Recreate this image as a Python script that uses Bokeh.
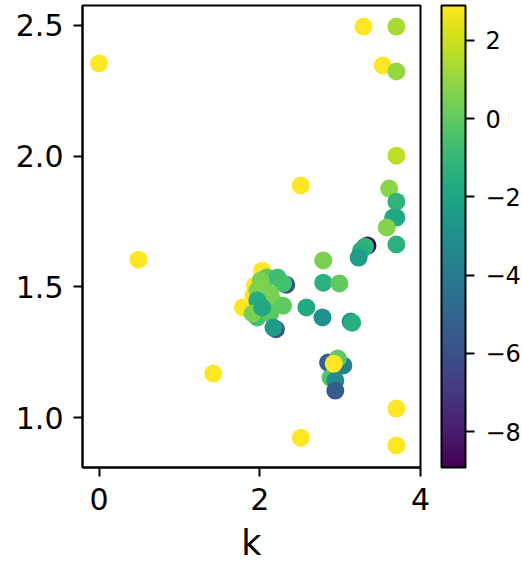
from bokeh.plotting import figure
from bokeh.models import (ColumnDataSource, LinearColorMapper, ColorBar, FixedTicker,
                          CustomJSTickFormatter, Range1d)
from bokeh.palettes import Viridis256
from bokeh.embed import file_html
from bokeh.resources import INLINE

# ---- data ----
k_vals = [0.0, 0.49, 1.42, 2.51, 2.51, 3.29, 3.70, 3.53, 3.70, 3.70,
          3.61, 3.70, 3.66, 3.70, 3.58, 3.70, 3.34, 3.31, 3.26, 3.23,
          2.79, 2.79, 2.99, 2.58, 2.78, 3.13, 3.15,
          2.85, 3.04, 2.97, 2.88, 2.94, 2.94, 2.92, 3.70, 3.70,
          2.33, 2.20, 2.03, 1.79, 1.94, 1.92, 2.09, 2.22, 2.29, 2.01,
          1.97, 2.13, 2.16, 1.97, 2.29, 1.97, 2.13, 2.17, 1.91, 2.03]
y_vals = [2.355, 1.604, 1.168, 1.888, 0.923, 2.496, 2.496, 2.347, 2.324, 2.002,
          1.876, 1.826, 1.765, 1.765, 1.727, 1.662, 1.658, 1.654, 1.639, 1.612,
          1.601, 1.516, 1.513, 1.421, 1.383, 1.367, 1.363,
          1.210, 1.199, 1.226, 1.153, 1.141, 1.103, 1.206, 1.034, 0.893,
          1.508, 1.338, 1.562, 1.421, 1.505, 1.467, 1.536, 1.536, 1.513, 1.524,
          1.486, 1.474, 1.448, 1.448, 1.428, 1.383, 1.398, 1.344, 1.398, 1.421]
c_vals = [2.89, 2.89, 2.89, 2.89, 2.89, 2.89, 1.35, 2.89, 1.0, 1.7,
          0.8, -1.24, -1.6, -1.9, 0.7, -1.4, -8.9, -1.2, -1.5, -2.3,
          0.5, -1.4, 0.0, -1.7, -3.0, -2.8, -1.5,
          -5.4, -3.8, 0.0, -0.3, -3.2, -5.5, 2.89, 2.89, 2.89,
          -6.0, -6.0, 2.89, 2.89, 2.89, 2.89, -0.1, -0.8, -0.6, 0.5,
          0.6, 0.5, 0.5, -1.6, 0.0, -0.6, -0.1, -2.4, 0.5, -1.8]

xticks = [0, 2, 4]
yticks = [1.0, 1.5, 2.0, 2.5]
cticks = [-8, -6, -4, -2, 0, 2]
x_label = "k"

src = ColumnDataSource(dict(k=k_vals, y=y_vals, c=c_vals))
mapper = LinearColorMapper(palette=Viridis256, low=-8.92, high=2.89)

p = figure(frame_width=338, frame_height=462,
           min_border_left=82, min_border_top=5, min_border_bottom=96, min_border_right=102,
           x_range=Range1d(-0.206, 4.0), y_range=Range1d(0.8087, 2.5765),
           output_backend="svg", toolbar_location=None)

p.scatter("k", "y", source=src, size=18, line_color=None,
          fill_color={"field": "c", "transform": mapper})

p.xgrid.visible = False
p.ygrid.visible = False
p.outline_line_color = "black"
p.outline_line_width = 2
p.outline_line_alpha = 1

for ax in (p.xaxis[0], p.yaxis[0]):
    ax.axis_line_width = 2
    ax.axis_line_color = "black"
    ax.major_tick_line_width = 2
    ax.major_tick_in = 0
    ax.major_tick_out = 9
    ax.minor_tick_line_color = None
    ax.major_label_text_font = "DejaVu Sans"
    ax.major_label_text_font_size = "30px"
    ax.major_label_text_color = "black"

p.xaxis.ticker = FixedTicker(ticks=xticks)
p.yaxis.ticker = FixedTicker(ticks=yticks)
p.yaxis.major_label_overrides = {t: "%.1f" % t for t in yticks}
p.xaxis.major_label_overrides = {t: str(t) for t in xticks}
p.xaxis.axis_label = x_label
p.xaxis.axis_label_text_font = "DejaVu Sans"
p.xaxis.axis_label_text_font_size = "35px"
p.xaxis.axis_label_text_font_style = "normal"
p.xaxis.axis_label_text_color = "black"
p.xaxis.axis_label_standoff = 10
p.xaxis.major_label_standoff = 11
p.yaxis.major_label_standoff = 10

cb = ColorBar(color_mapper=mapper, width=24, height=462, padding=0, margin=0,
              location=(359, 0),
              ticker=FixedTicker(ticks=cticks),
              formatter=CustomJSTickFormatter(code="return tick < 0 ? '\\u2212' + Math.abs(tick) : '' + tick;"),
              major_tick_in=0, major_tick_out=9, major_tick_line_color="black",
              major_tick_line_width=2,
              bar_line_color="black", bar_line_width=2,
              major_label_text_font="DejaVu Sans", major_label_text_font_size="24px",
              major_label_text_color="black", label_standoff=11,
              background_fill_color=None, border_line_color=None)
p.add_layout(cb, "center")

open("out.html", "w").write(file_html(p, INLINE))
